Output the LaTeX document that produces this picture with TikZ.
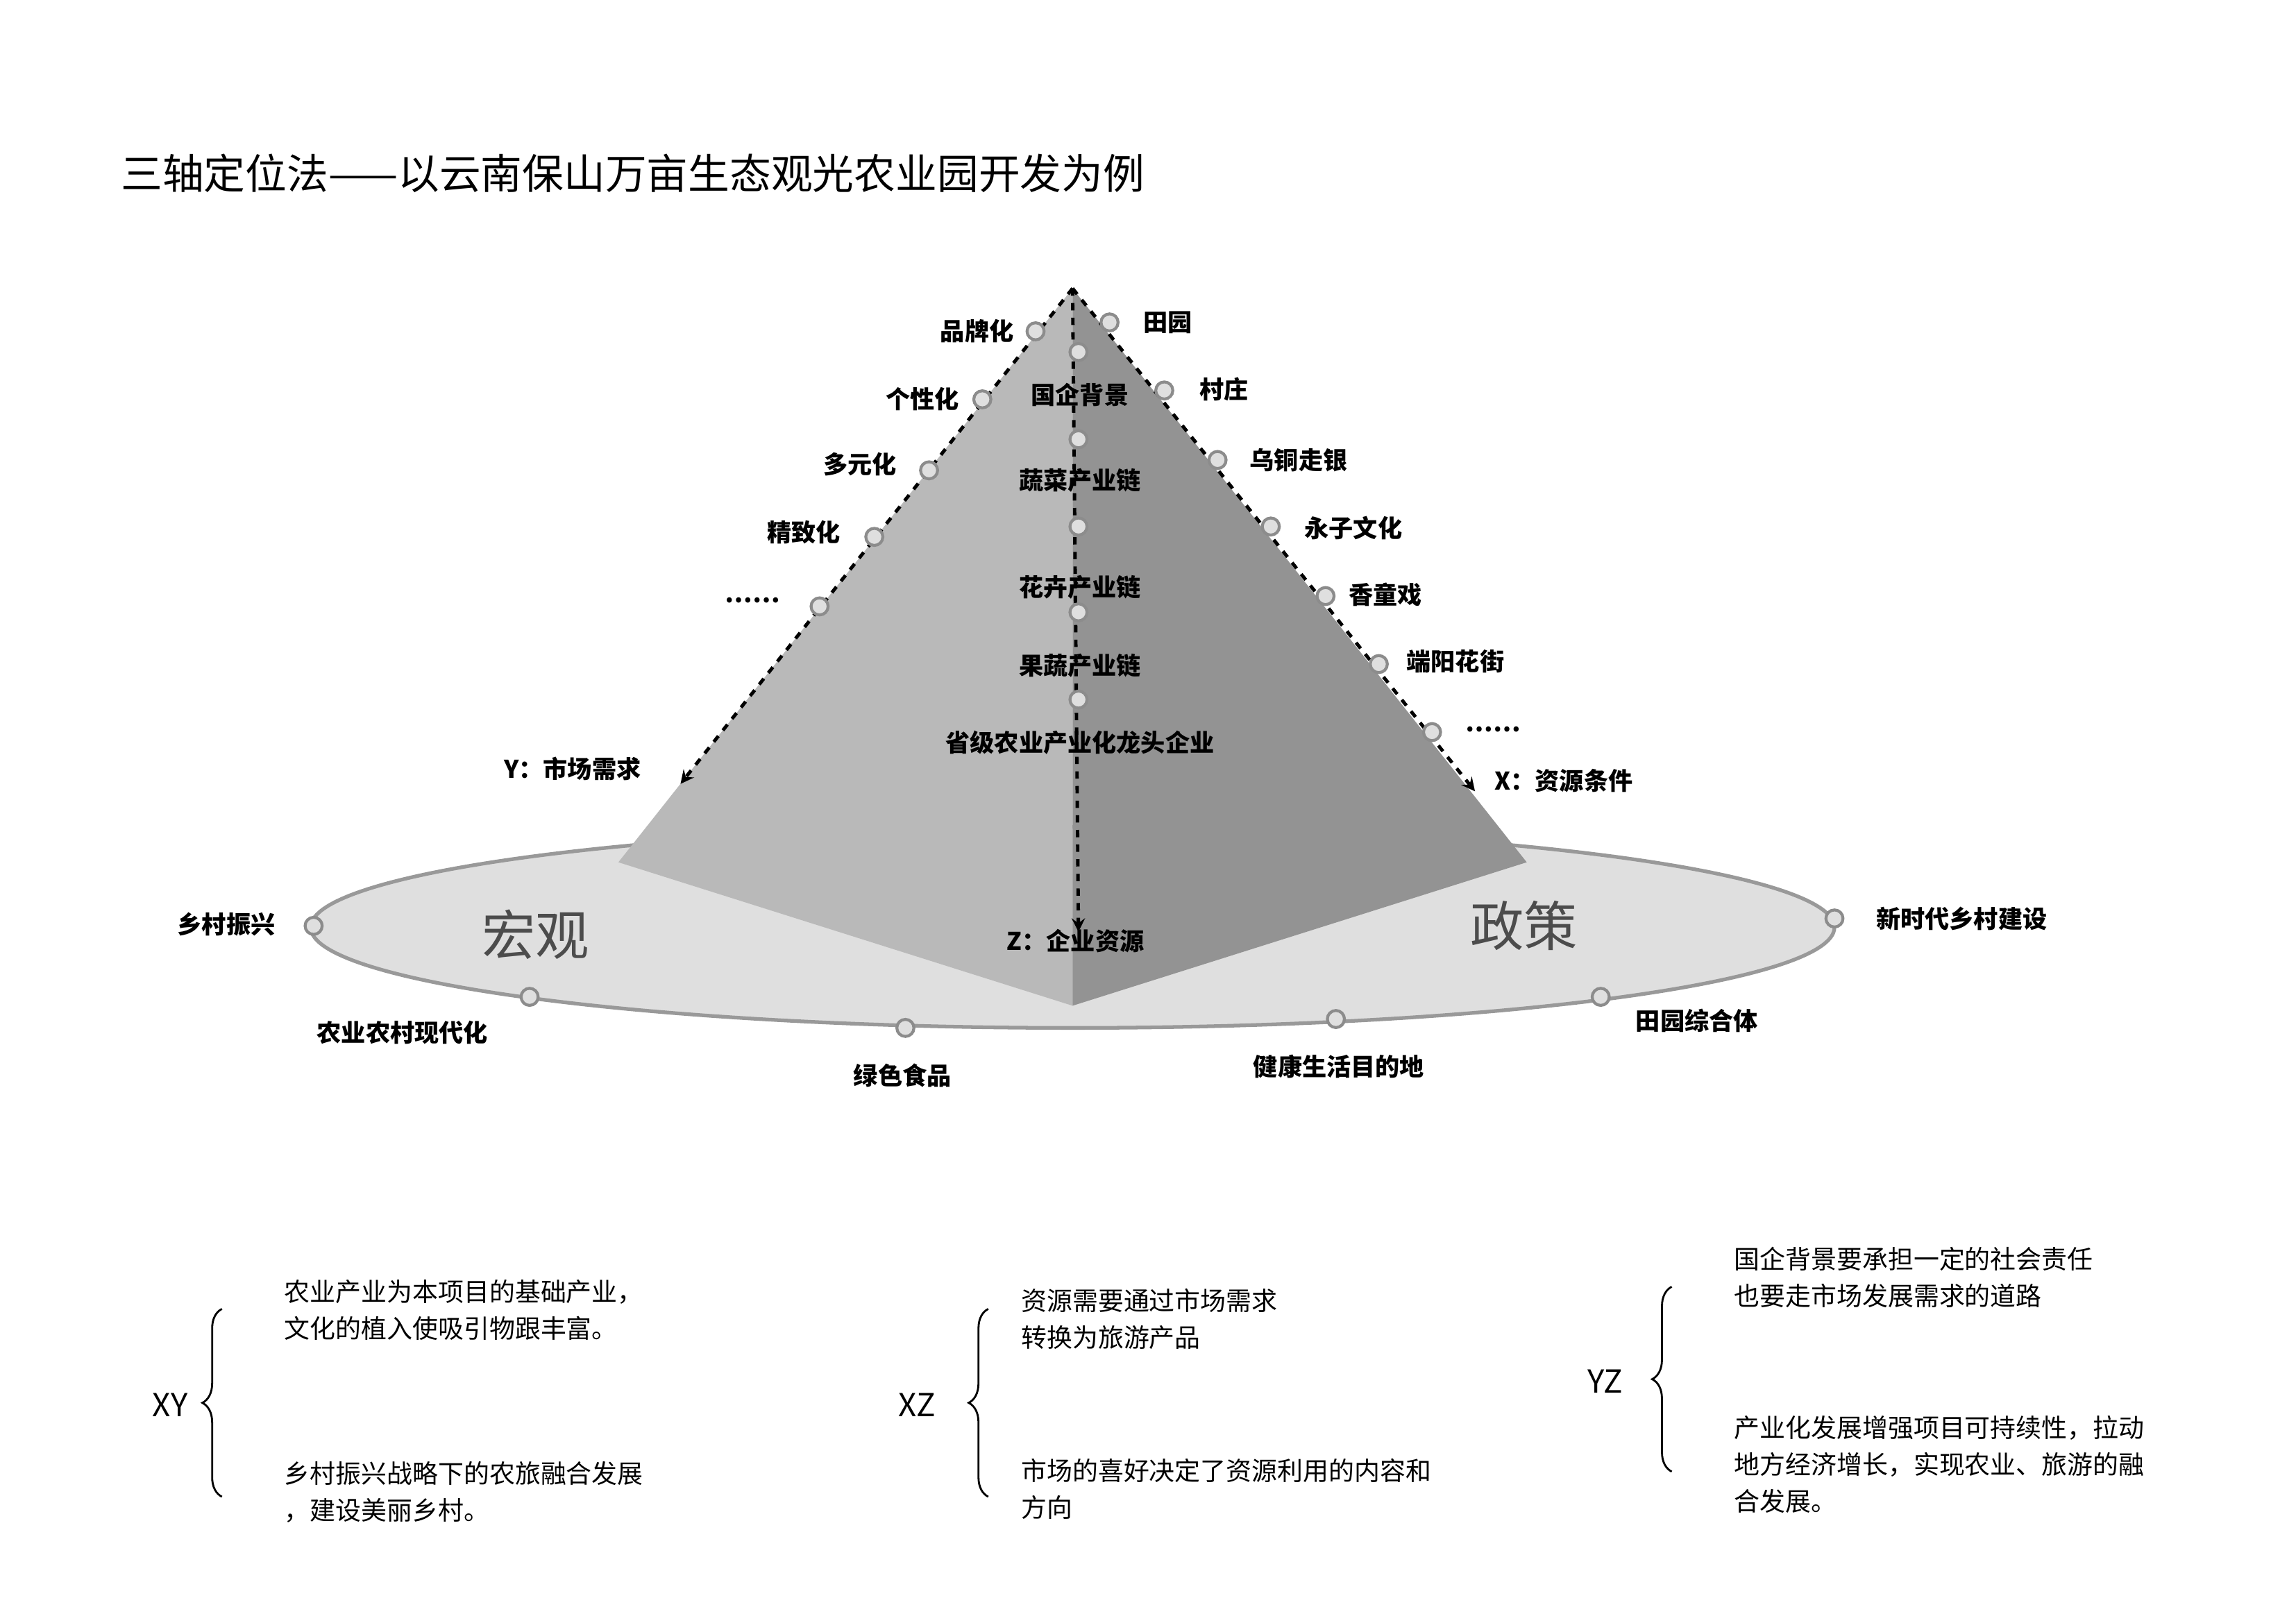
\documentclass[tikz,border=0pt]{standalone}
\usepackage{fontspec}
\setmainfont{Noto Sans CJK SC}
\usetikzlibrary{decorations.pathreplacing}
\tikzset{
  dot/.style={circle,draw=gray!90,fill=gray!25,line width=1.2pt,inner sep=0pt,minimum size=7pt},
  lbl/.style={font=\bfseries\fontsize{10}{12}\selectfont},
  note/.style={font=\fontsize{10.5}{15}\selectfont,align=left,anchor=north west,inner sep=0pt},
  axis/.style={dashed,line width=1.4pt,-stealth},
  big/.style={font=\itshape\fontsize{22}{24}\selectfont,text=gray!60!black}
}
\begin{document}
\begin{tikzpicture}[x=0.2131mm,y=-0.2131mm]
    \useasboundingbox (0,0) rectangle (1552,1097);
    \node[anchor=west,font=\fontsize{17}{20}\selectfont] (title) at (76,117)
        {三轴定位法——以云南保山万亩生态观光农业园开发为例};
    % base ellipse and pyramid
    \coordinate (T) at (725,195);
    \coordinate (L) at (418,583);
    \coordinate (R) at (1032,583);
    \coordinate (F) at (725,680);
    \coordinate (C) at (725,627);
    \draw[gray!80,fill=gray!25,line width=1.5pt] (C) ellipse (515 and 68);
    \fill[gray!55] (T) -- (L) -- (F) -- cycle;
    \fill[gray!85] (T) -- (F) -- (R) -- cycle;
    \coordinate (Y) at (460,530);
    \coordinate (X) at (997,535);
    \coordinate (Z) at (729,630);
    \draw[axis] (T) -- (Y);
    \draw[axis] (T) -- (X);
    \draw[axis] (T) -- (Z);
    \node[lbl] (Ylbl) at (387,520) {Y：市场需求};
    \node[lbl] (Xlbl) at (1057,528) {X：资源条件};
    \node[lbl] (Zlbl) at (727,636) {Z：企业资源};
    % Y axis points
    \node[dot] (y1) at (700,224) {};
    \node[dot] (y2) at (664,270) {};
    \node[dot] (y3) at (628,318) {};
    \node[dot] (y4) at (591,363) {};
    \node[dot] (y5) at (554,410) {};
    \node[lbl,anchor=east] (ly1) at (691,224) {品牌化};
    \node[lbl,anchor=east] (ly2) at (654,270) {个性化};
    \node[lbl,anchor=east] (ly3) at (612,314) {多元化};
    \node[lbl,anchor=east] (ly4) at (574,360) {精致化};
    \node[lbl,anchor=east] (ly5) at (533,406) {……};
    % X axis points
    \node[dot] (x1) at (750,218) {};
    \node[dot] (x2) at (787,264) {};
    \node[dot] (x3) at (823,311) {};
    \node[dot] (x4) at (859,356) {};
    \node[dot] (x5) at (896,403) {};
    \node[dot] (x6) at (932,449) {};
    \node[dot] (x7) at (968,495) {};
    \node[lbl,anchor=west] (lx1) at (767,218) {田园};
    \node[lbl,anchor=west] (lx2) at (805,263) {村庄};
    \node[lbl,anchor=west] (lx3) at (839,311) {乌铜走银};
    \node[lbl,anchor=west] (lx4) at (876,357) {永子文化};
    \node[lbl,anchor=west] (lx5) at (906,402) {香童戏};
    \node[lbl,anchor=west] (lx6) at (945,447) {端阳花街};
    \node[lbl,anchor=west] (lx7) at (985,493) {……};
    % Z axis points
    \node[dot] (z1) at (729,238) {};
    \node[dot] (z2) at (729,297) {};
    \node[dot] (z3) at (729,356) {};
    \node[dot] (z4) at (729,414) {};
    \node[dot] (z5) at (729,473) {};
    \node[lbl] (lz1) at (730,267) {国企背景};
    \node[lbl] (lz2) at (730,325) {蔬菜产业链};
    \node[lbl] (lz3) at (730,397) {花卉产业链};
    \node[lbl] (lz4) at (730,450) {果蔬产业链};
    \node[lbl] (lz5) at (730,502) {省级农业产业化龙头企业};
    % base points
    \node[dot] (b1) at (212,626) {};
    \node[dot] (b2) at (358,674) {};
    \node[dot] (b3) at (612,695) {};
    \node[dot] (b4) at (903,689) {};
    \node[dot] (b5) at (1082,674) {};
    \node[dot] (b6) at (1240,621) {};
    \node[lbl] (lb1) at (153,625) {乡村振兴};
    \node[lbl] (lb2) at (272,698) {农业农村现代化};
    \node[lbl] (lb3) at (610,727) {绿色食品};
    \node[lbl] (lb4) at (905,721) {健康生活目的地};
    \node[lbl] (lb5) at (1147,690) {田园综合体};
    \node[lbl] (lb6) at (1326,621) {新时代乡村建设};
    \node[big] (macro) at (362,632) {宏观};
    \node[big] (policy) at (1030,626) {政策};
    % explanations
    \node[font=\fontsize{13}{15}\selectfont] (XY) at (115,950) {XY};
    \draw[decorate,decoration={brace,amplitude=8pt},line width=0.8pt] (150,1012) -- (150,885);
    \node[note] (xy1) at (192,865) {农业产业为本项目的基础产业，\\文化的植入使吸引物跟丰富。};
    \node[note] (xy2) at (192,988) {乡村振兴战略下的农旅融合发展\\，建设美丽乡村。};
    \node[font=\fontsize{13}{15}\selectfont] (XZ) at (620,950) {XZ};
    \draw[decorate,decoration={brace,amplitude=8pt},line width=0.8pt] (668,1012) -- (668,885);
    \node[note] (xz1) at (690,871) {资源需要通过市场需求\\转换为旅游产品};
    \node[note] (xz2) at (690,986) {市场的喜好决定了资源利用的内容和\\方向};
    \node[font=\fontsize{13}{15}\selectfont] (YZ) at (1085,934) {YZ};
    \draw[decorate,decoration={brace,amplitude=8pt},line width=0.8pt] (1130,995) -- (1130,870);
    \node[note] (yz1) at (1172,843) {国企背景要承担一定的社会责任\\也要走市场发展需求的道路};
    \node[note] (yz2) at (1172,957) {产业化发展增强项目可持续性，拉动\\地方经济增长，实现农业、旅游的融\\合发展。};
\end{tikzpicture}
\end{document}
